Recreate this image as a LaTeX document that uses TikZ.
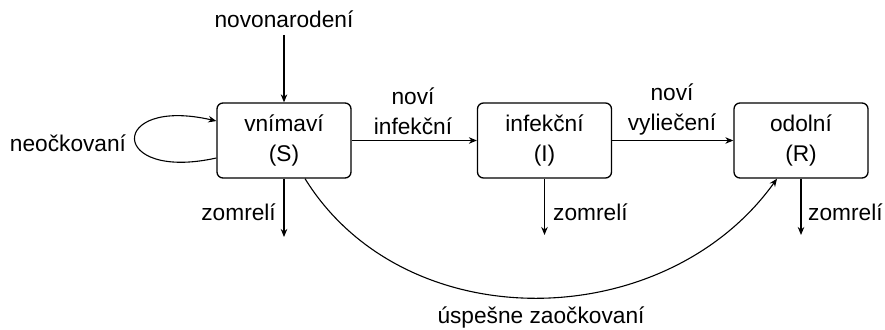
\documentclass[tikz,border=0pt]{standalone}
\usepackage{fontspec}
\setmainfont{Liberation Sans}
\usetikzlibrary{arrows.meta}
\begin{document}
\begin{tikzpicture}[x=1pt,y=-1pt,
  font=\fontsize{22.7}{30}\selectfont,
  state/.style={draw, rounded corners=6pt, line width=1.3pt,
    minimum width=134pt, minimum height=75pt, align=center, inner sep=0pt},
  flow/.style={-{Stealth[length=8pt,width=6.5pt,inset=2.5pt]}, line width=1.1pt},
  lbl/.style={align=center, inner sep=0pt}]
\useasboundingbox (0,0) rectangle (885,329);

% compartments
\node[state] (S) at (284,140.5) {vnímaví\\(S)};
\node[state] (I) at (544.5,140.5) {infekční\\(I)};
\node[state] (R) at (801,140.5) {odolní\\(R)};

% births
\node[lbl] (born) at (284,19) {novonarodení};
\coordinate (bornEnd) at (284,35);
\draw[flow] (bornEnd) -- (S.north);

% unvaccinated loop
\node[lbl] (unvac) at (68,143) {neočkovaní};
\draw[flow] ([yshift=-17.5pt]S.west) .. controls (108,182) and (108,96) .. ([yshift=19.5pt]S.west);

% transitions
\draw[flow] (S.east) -- (I.west);
\node[lbl] (newinf) at (413,111) {noví\\infekční};
\draw[flow] (I.east) -- (R.west);
\node[lbl] (newrec) at (672,109) {noví\\vyliečení};

% deaths
\coordinate (dS) at (284,237);
\coordinate (dI) at (544.5,235);
\coordinate (dR) at (801,235);
\draw[flow] (S.south) -- (dS);
\draw[flow] (I.south) -- (dI);
\draw[flow] (R.south) -- (dR);
\node[lbl, anchor=east] (deadS) at (276,212) {zomrelí};
\node[lbl, anchor=west] (deadI) at (553,212) {zomrelí};
\node[lbl, anchor=west] (deadR) at (808,212) {zomrelí};

% vaccination
\draw[flow] ([xshift=21pt]S.south) .. controls (405,340) and (665,335) .. ([xshift=-24pt]R.south);
\node[lbl] (vacc) at (541,317) {úspešne zaočkovaní};
\end{tikzpicture}
\end{document}
